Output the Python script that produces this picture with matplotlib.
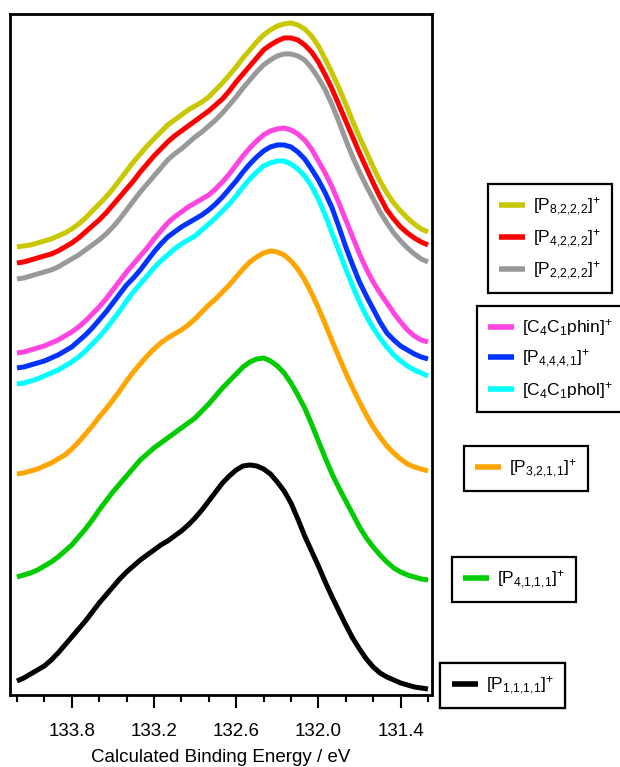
import matplotlib
matplotlib.use("Agg")
import matplotlib.pyplot as plt
from matplotlib.ticker import MultipleLocator

plt.rcParams['font.family'] = ['Liberation Sans', 'DejaVu Sans']
plt.rcParams['mathtext.fontset'] = 'custom'
plt.rcParams['mathtext.rm'] = 'Liberation Sans'
plt.rcParams['mathtext.it'] = 'Liberation Sans:italic'
plt.rcParams['mathtext.bf'] = 'Liberation Sans:bold'

# binding energy grid (eV), 134.2 -> 131.2 in 0.05 eV steps
energy = [134.20, 134.15, 134.10, 134.05, 134.00, 133.95, 133.90, 133.85, 133.80, 133.75,
          133.70, 133.65, 133.60, 133.55, 133.50, 133.45, 133.40, 133.35, 133.30, 133.25,
          133.20, 133.15, 133.10, 133.05, 133.00, 132.95, 132.90, 132.85, 132.80, 132.75,
          132.70, 132.65, 132.60, 132.55, 132.50, 132.45, 132.40, 132.35, 132.30, 132.25,
          132.20, 132.15, 132.10, 132.05, 132.00, 131.95, 131.90, 131.85, 131.80, 131.75,
          131.70, 131.65, 131.60, 131.55, 131.50, 131.45, 131.40, 131.35, 131.30, 131.25,
          131.20]

# stacked (offset) spectra, arbitrary intensity units
p8222 = [4.48, 4.49, 4.50, 4.52, 4.54, 4.56, 4.59, 4.62, 4.66, 4.71,
         4.77, 4.84, 4.91, 4.98, 5.06, 5.15, 5.24, 5.33, 5.41, 5.49,
         5.56, 5.63, 5.70, 5.75, 5.80, 5.85, 5.89, 5.93, 5.98, 6.05,
         6.12, 6.20, 6.28, 6.37, 6.45, 6.53, 6.60, 6.65, 6.69, 6.71,
         6.72, 6.70, 6.66, 6.59, 6.49, 6.36, 6.22, 6.07, 5.91, 5.74,
         5.58, 5.43, 5.28, 5.14, 5.02, 4.92, 4.84, 4.77, 4.71, 4.66,
         4.63]
p4222 = [4.32, 4.33, 4.35, 4.37, 4.39, 4.41, 4.44, 4.48, 4.52, 4.57,
         4.63, 4.69, 4.75, 4.82, 4.90, 4.98, 5.06, 5.14, 5.23, 5.31,
         5.39, 5.46, 5.53, 5.59, 5.64, 5.69, 5.74, 5.79, 5.84, 5.90,
         5.96, 6.04, 6.13, 6.21, 6.29, 6.37, 6.45, 6.50, 6.54, 6.57,
         6.57, 6.55, 6.50, 6.43, 6.33, 6.20, 6.06, 5.90, 5.74, 5.58,
         5.42, 5.27, 5.12, 4.98, 4.85, 4.76, 4.68, 4.62, 4.57, 4.53,
         4.50]
p2222 = [4.16, 4.17, 4.19, 4.21, 4.23, 4.25, 4.28, 4.32, 4.36, 4.40,
         4.45, 4.50, 4.55, 4.61, 4.68, 4.76, 4.85, 4.94, 5.03, 5.11,
         5.19, 5.27, 5.35, 5.41, 5.46, 5.52, 5.58, 5.63, 5.69, 5.75,
         5.82, 5.90, 5.98, 6.07, 6.15, 6.23, 6.30, 6.35, 6.39, 6.41,
         6.41, 6.39, 6.35, 6.27, 6.17, 6.05, 5.90, 5.73, 5.55, 5.38,
         5.23, 5.09, 4.96, 4.83, 4.72, 4.62, 4.54, 4.47, 4.41, 4.36,
         4.33]
c4c1phin = [3.42, 3.43, 3.45, 3.47, 3.49, 3.52, 3.55, 3.59, 3.63, 3.68,
            3.74, 3.81, 3.88, 3.96, 4.05, 4.14, 4.23, 4.31, 4.39, 4.47,
            4.56, 4.64, 4.72, 4.78, 4.83, 4.88, 4.92, 4.96, 5.00, 5.06,
            5.13, 5.21, 5.30, 5.39, 5.47, 5.54, 5.60, 5.64, 5.66, 5.67,
            5.65, 5.61, 5.55, 5.46, 5.34, 5.22, 5.08, 4.92, 4.75, 4.58,
            4.41, 4.26, 4.13, 4.02, 3.92, 3.82, 3.73, 3.65, 3.59, 3.55,
            3.53]
p4441 = [3.27, 3.28, 3.30, 3.32, 3.34, 3.37, 3.40, 3.44, 3.48, 3.54,
         3.60, 3.67, 3.75, 3.83, 3.92, 4.01, 4.10, 4.17, 4.25, 4.34,
         4.43, 4.51, 4.58, 4.63, 4.68, 4.72, 4.76, 4.80, 4.85, 4.91,
         4.98, 5.06, 5.14, 5.23, 5.31, 5.38, 5.44, 5.48, 5.50, 5.50,
         5.48, 5.43, 5.36, 5.26, 5.15, 5.02, 4.87, 4.68, 4.48, 4.30,
         4.13, 3.99, 3.86, 3.73, 3.62, 3.55, 3.49, 3.45, 3.41, 3.38,
         3.36]
c4c1phol = [3.11, 3.12, 3.14, 3.16, 3.19, 3.22, 3.25, 3.29, 3.33, 3.38,
            3.44, 3.51, 3.58, 3.66, 3.75, 3.84, 3.94, 4.03, 4.11, 4.19,
            4.27, 4.34, 4.40, 4.46, 4.51, 4.55, 4.59, 4.65, 4.71, 4.77,
            4.84, 4.91, 4.99, 5.08, 5.16, 5.23, 5.29, 5.32, 5.34, 5.34,
            5.31, 5.26, 5.19, 5.09, 4.96, 4.80, 4.62, 4.44, 4.26, 4.09,
            3.93, 3.79, 3.67, 3.57, 3.48, 3.40, 3.34, 3.29, 3.25, 3.22,
            3.19]
p3211 = [2.21, 2.22, 2.24, 2.26, 2.29, 2.32, 2.36, 2.40, 2.46, 2.53,
         2.61, 2.69, 2.78, 2.86, 2.95, 3.04, 3.14, 3.23, 3.31, 3.39,
         3.46, 3.52, 3.57, 3.61, 3.65, 3.70, 3.76, 3.83, 3.90, 3.96,
         4.03, 4.10, 4.18, 4.26, 4.33, 4.38, 4.42, 4.44, 4.43, 4.40,
         4.34, 4.26, 4.15, 4.02, 3.87, 3.71, 3.54, 3.38, 3.22, 3.07,
         2.93, 2.80, 2.68, 2.58, 2.49, 2.42, 2.36, 2.31, 2.28, 2.26,
         2.24]
p4111 = [1.18, 1.20, 1.22, 1.25, 1.29, 1.33, 1.38, 1.44, 1.50, 1.58,
         1.66, 1.75, 1.85, 1.94, 2.03, 2.11, 2.19, 2.27, 2.35, 2.41,
         2.47, 2.52, 2.57, 2.62, 2.67, 2.72, 2.77, 2.84, 2.91, 2.99,
         3.07, 3.14, 3.21, 3.28, 3.33, 3.36, 3.37, 3.34, 3.29, 3.22,
         3.12, 3.00, 2.87, 2.71, 2.54, 2.37, 2.21, 2.07, 1.94, 1.81,
         1.68, 1.57, 1.48, 1.40, 1.33, 1.27, 1.23, 1.20, 1.18, 1.16,
         1.15]
p1111 = [0.14, 0.17, 0.21, 0.25, 0.29, 0.35, 0.42, 0.50, 0.58, 0.66,
         0.74, 0.83, 0.92, 1.00, 1.08, 1.16, 1.23, 1.29, 1.35, 1.40,
         1.45, 1.50, 1.54, 1.59, 1.64, 1.70, 1.77, 1.85, 1.94, 2.03,
         2.12, 2.19, 2.25, 2.29, 2.30, 2.29, 2.26, 2.21, 2.13, 2.04,
         1.92, 1.76, 1.59, 1.44, 1.29, 1.13, 0.98, 0.84, 0.70, 0.57,
         0.46, 0.36, 0.28, 0.22, 0.18, 0.15, 0.12, 0.10, 0.08, 0.07,
         0.06]

labels = {
    'p8222': r'[P$_{8{,}2{,}2{,}2}$]$^{+}$',
    'p4222': r'[P$_{4{,}2{,}2{,}2}$]$^{+}$',
    'p2222': r'[P$_{2{,}2{,}2{,}2}$]$^{+}$',
    'c4c1phin': r'[C$_4$C$_1$phin]$^{+}$',
    'p4441': r'[P$_{4{,}4{,}4{,}1}$]$^{+}$',
    'c4c1phol': r'[C$_4$C$_1$phol]$^{+}$',
    'p3211': r'[P$_{3{,}2{,}1{,}1}$]$^{+}$',
    'p4111': r'[P$_{4{,}1{,}1{,}1}$]$^{+}$',
    'p1111': r'[P$_{1{,}1{,}1{,}1}$]$^{+}$',
}

fig = plt.figure(figsize=(6.2, 7.67), dpi=100)
ax = fig.add_axes([0.0161, 0.0939, 0.6806, 0.8879])

lw = 3.6
series = [
    ('p8222', p8222, '#c8c800'),
    ('p4222', p4222, '#ff0000'),
    ('p2222', p2222, '#999999'),
    ('c4c1phin', c4c1phin, '#ff44e0'),
    ('p4441', p4441, '#0033ff'),
    ('c4c1phol', c4c1phol, '#00ffff'),
    ('p3211', p3211, '#ffa500'),
    ('p4111', p4111, '#00cc00'),
    ('p1111', p1111, '#000000'),
]
lines = {}
for key, vals, col in series:
    lines[key], = ax.plot(energy, vals, color=col, lw=lw,
                          solid_joinstyle='round', solid_capstyle='butt',
                          label=labels[key])

ax.set_xlim(134.251, 131.171)
ax.set_ylim(0, 6.81)
ax.xaxis.set_minor_locator(MultipleLocator(0.2))
ax.set_xticks([133.8, 133.2, 132.6, 132.0, 131.4])
ax.set_xticklabels(['133.8', '133.2', '132.6', '132.0', '131.4'])
ax.tick_params(axis='x', which='major', length=9.5, width=1.5, labelsize=13.5,
               direction='out', pad=11)
ax.tick_params(axis='x', which='minor', length=5, width=1.5, direction='out')
ax.set_yticks([])
for sp in ax.spines.values():
    sp.set_linewidth(2)
ax.set_xlabel('Calculated Binding Energy / eV', fontsize=13.5, labelpad=6)

# separate legend boxes per group, on the right side
groups = [
    (['p8222', 'p4222', 'p2222'], (0.787, 0.760)),
    (['c4c1phin', 'p4441', 'c4c1phol'], (0.769, 0.601)),
    (['p3211'], (0.748, 0.4185)),
    (['p4111'], (0.729, 0.274)),
    (['p1111'], (0.710, 0.1356)),
]
for keys, anchor in groups:
    leg = ax.legend([lines[k] for k in keys], [labels[k] for k in keys],
                    loc='upper left', bbox_to_anchor=anchor,
                    bbox_transform=fig.transFigure, fontsize=12.5,
                    fancybox=False, framealpha=1, edgecolor='black',
                    handlelength=1.5, handletextpad=0.45, borderpad=0.66,
                    labelspacing=0.55, borderaxespad=0)
    leg.get_frame().set_linewidth(1.6)
    for h in leg.legend_handles:
        h.set_linewidth(4)
    ax.add_artist(leg)

fig.savefig('out.png', dpi=100)
